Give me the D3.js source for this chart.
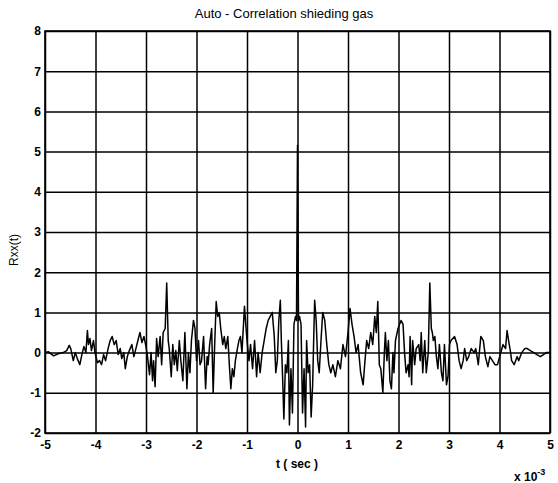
<!DOCTYPE html>
<html>
<head>
<meta charset="utf-8">
<script src="https://cdn.jsdelivr.net/npm/d3@7"></script>
<style>
  body { margin: 0; background: #fff; }
  text { font-family: "Liberation Sans", Arial, sans-serif; fill: #000; }
</style>
</head>
<body>
<svg id="chart" width="558" height="483"></svg>
<script>
// tick values
var xTicks = [-5, -4, -3, -2, -1, 0, 1, 2, 3, 4, 5];
var yTicks = [-2, -1, 0, 1, 2, 3, 4, 5, 6, 7, 8];

// Rxx(t), t in ms (x 10^-3 s)
var leftHalf = [
  [-5.00, 0.0], [-4.93, 0.02], [-4.83, -0.08], [-4.74, -0.03], [-4.64, 0.0], [-4.57, 0.05],
  [-4.52, 0.18], [-4.49, 0.1], [-4.44, -0.2], [-4.40, 0.0], [-4.36, -0.15], [-4.31, -0.3],
  [-4.27, -0.05], [-4.23, 0.15], [-4.19, 0.0], [-4.16, 0.55], [-4.14, 0.2], [-4.11, 0.35],
  [-4.08, 0.05], [-4.04, 0.3], [-4.01, 0.0], [-3.96, -0.25], [-3.92, -0.2], [-3.88, -0.3],
  [-3.84, -0.05], [-3.80, -0.2], [-3.75, 0.1], [-3.71, 0.3], [-3.67, 0.4], [-3.63, 0.2],
  [-3.59, 0.3], [-3.55, -0.05], [-3.51, 0.1], [-3.48, -0.15], [-3.44, 0.0], [-3.41, -0.4],
  [-3.37, -0.1], [-3.33, 0.05], [-3.28, 0.2], [-3.24, -0.1], [-3.20, 0.1], [-3.16, 0.3],
  [-3.12, 0.5], [-3.08, 0.25], [-3.04, 0.4], [-3.00, 0.15], [-2.97, -0.1], [-2.93, -0.55],
  [-2.90, 0.0], [-2.87, -0.7], [-2.85, -0.2], [-2.82, -0.85], [-2.79, 0.35], [-2.76, -0.1],
  [-2.72, 0.4], [-2.69, -0.3], [-2.66, 0.5], [-2.62, 0.6], [-2.59, 1.73], [-2.56, 0.3],
  [-2.54, 0.1], [-2.50, -0.6], [-2.47, 0.2], [-2.44, -0.3], [-2.41, 0.05], [-2.38, -0.45],
  [-2.34, 0.3], [-2.31, -0.2], [-2.27, -0.7], [-2.23, 0.5], [-2.19, -0.9], [-2.16, 0.0],
  [-2.13, -0.5], [-2.10, 0.3], [-2.06, 0.8], [-2.03, 0.6], [-2.00, -0.2], [-1.96, 0.3],
  [-1.93, -0.3], [-1.90, -0.2], [-1.86, 0.4], [-1.82, -0.9], [-1.79, -0.1], [-1.77, -0.3],
  [-1.74, 0.2], [-1.70, 0.6], [-1.67, -1.0], [-1.64, 0.2], [-1.61, 1.27], [-1.58, 0.9],
  [-1.55, 1.0], [-1.52, 0.6], [-1.48, 0.2], [-1.45, 0.4], [-1.42, 0.1], [-1.38, 0.4],
  [-1.35, -0.3], [-1.32, -0.9], [-1.29, -0.4], [-1.26, -0.6], [-1.23, -0.2], [-1.19, 0.1],
  [-1.16, 0.3], [-1.13, 0.4], [-1.10, 0.0], [-1.05, 1.15], [-1.03, 0.8], [-1.00, 0.3],
  [-0.96, -0.2], [-0.93, 0.2], [-0.89, -0.4], [-0.85, 0.3], [-0.81, -0.6], [-0.78, 0.0],
  [-0.74, -0.5], [-0.70, 0.0], [-0.66, 0.3], [-0.62, 0.6], [-0.58, 0.8], [-0.50, 1.0],
  [-0.46, 0.4], [-0.43, -0.5], [-0.40, -0.2], [-0.37, 0.8], [-0.34, 1.3], [-0.32, 0.3],
  [-0.29, -0.8], [-0.27, -1.65], [-0.24, -0.3], [-0.21, -0.5], [-0.18, 0.3], [-0.16, -1.8],
  [-0.13, -0.4], [-0.10, -1.5], [-0.07, 0.7], [-0.04, 0.9], [-0.02, 0.8]
];
var peak = [[0, 5.16]];
var rightHalf = [
  [0.02, 0.8], [0.04, 0.9], [0.07, 0.7], [0.10, -1.5], [0.13, -0.4], [0.16, -1.85],
  [0.18, 0.3], [0.21, -0.5], [0.24, -0.3], [0.27, -1.6], [0.30, -0.8], [0.32, 0.3],
  [0.34, 1.3], [0.37, 0.8], [0.40, -0.2], [0.43, -0.5], [0.47, 0.4], [0.50, 1.0],
  [0.54, 0.8], [0.58, 0.2], [0.62, -0.3], [0.66, -0.5], [0.70, -0.3], [0.75, -0.6],
  [0.80, -0.2], [0.85, -0.4], [0.90, 0.2], [0.95, -0.1], [1.00, 0.5], [1.04, 1.1],
  [1.08, 0.7], [1.12, 0.4], [1.16, 0.0], [1.20, 0.2], [1.25, -0.5], [1.30, -0.8],
  [1.33, -0.3], [1.37, 0.3], [1.41, 0.1], [1.45, 0.5], [1.49, 0.2], [1.53, 0.9],
  [1.56, 0.5], [1.59, 1.27], [1.62, -0.3], [1.65, -0.4], [1.69, -1.0], [1.72, 0.0],
  [1.74, 0.5], [1.77, -0.2], [1.80, 0.3], [1.83, -0.7], [1.86, -0.9], [1.89, 0.0],
  [1.91, -0.5], [1.94, 0.3], [1.99, 0.6], [2.05, 0.8], [2.09, 0.7], [2.12, 0.0],
  [2.15, -0.5], [2.19, -0.3], [2.21, -0.6], [2.23, 0.4], [2.26, -0.8], [2.28, 0.3],
  [2.32, -0.3], [2.35, 0.1], [2.40, 0.2], [2.43, -0.2], [2.45, 0.5], [2.48, -0.5],
  [2.52, 0.3], [2.55, -0.5], [2.59, 0.0], [2.62, 1.73], [2.65, 0.6], [2.67, 0.5],
  [2.69, 0.3], [2.72, 0.4], [2.75, -0.1], [2.78, -0.4], [2.81, 0.2], [2.85, -0.5],
  [2.88, -0.7], [2.91, 0.2], [2.95, -0.8], [2.98, -0.6], [3.01, 0.2], [3.04, 0.3],
  [3.11, 0.4], [3.16, 0.2], [3.20, -0.2], [3.24, -0.4], [3.28, -0.2], [3.31, 0.1],
  [3.35, -0.2], [3.39, -0.1], [3.44, 0.1], [3.50, 0.0], [3.53, 0.1], [3.58, -0.3],
  [3.63, 0.4], [3.68, 0.3], [3.72, -0.1], [3.77, -0.35], [3.81, -0.1], [3.86, -0.2],
  [3.91, -0.3], [3.96, -0.3], [4.07, 0.2], [4.12, 0.1], [4.15, 0.55], [4.18, 0.3],
  [4.22, 0.0], [4.24, -0.2], [4.29, -0.3], [4.35, -0.1], [4.38, -0.2], [4.44, 0.0],
  [4.50, 0.1], [4.55, 0.1], [4.61, 0.05], [4.68, 0.0], [4.74, -0.05], [4.81, -0.1],
  [4.87, -0.05], [4.93, 0.0], [5.00, 0.0]
];

var svg = d3.select("#chart");
var padL = 45, padR = 550, padT = 31, padB = 433;

var x = d3.scaleLinear().domain([-5, 5]).range([padL, padR]);
var y = d3.scaleLinear().domain([-2, 8]).range([padB, padT]);

// grid + ticks via axes
var xAxis = d3.axisBottom(x)
  .tickValues(xTicks)
  .tickSizeInner(-(padB - padT))
  .tickSizeOuter(0)
  .tickPadding(7)
  .tickFormat(function(d) { return String(d); });
var yAxis = d3.axisLeft(y)
  .tickValues(yTicks)
  .tickSizeInner(-(padR - padL))
  .tickSizeOuter(0)
  .tickPadding(4)
  .tickFormat(function(d) { return String(d); });

var gx = svg.append("g").attr("transform", "translate(0," + padB + ")").call(xAxis);
var gy = svg.append("g").attr("transform", "translate(" + padL + ",0)").call(yAxis);

[gx, gy].forEach(function(g) {
  g.select(".domain").remove();
  g.selectAll(".tick line").attr("stroke", "#000").attr("stroke-width", 1.5);
  g.selectAll(".tick text")
    .attr("fill", "#000")
    .style("font-size", "12px")
    .style("font-weight", "bold");
});

// box
svg.append("rect")
  .attr("x", padL).attr("y", padT)
  .attr("width", padR - padL).attr("height", padB - padT)
  .attr("fill", "none").attr("stroke", "#000").attr("stroke-width", 1.6);

// data line
var data = leftHalf.concat(peak, rightHalf);
var line = d3.line()
  .x(function(d) { return x(d[0]); })
  .y(function(d) { return y(d[1]); });

svg.append("path")
  .datum(data)
  .attr("d", line)
  .attr("fill", "none")
  .attr("stroke", "#000")
  .attr("stroke-width", 1.5)
  .attr("stroke-linejoin", "round");

// labels
svg.append("text")
  .attr("x", 284)
  .attr("y", 18)
  .attr("text-anchor", "middle")
  .style("font-size", "13px")
  .text("Auto - Correlation shieding gas");

svg.append("text")
  .attr("x", 297)
  .attr("y", 468)
  .attr("text-anchor", "middle")
  .style("font-size", "12px")
  .style("font-weight", "bold")
  .text("t ( sec )");

svg.append("text")
  .attr("transform", "translate(18,250) rotate(-90)")
  .attr("text-anchor", "middle")
  .style("font-size", "12px")
  .text("Rxx(t)");

var mult = svg.append("text")
  .attr("x", 514)
  .attr("y", 481)
  .style("font-size", "12px")
  .style("font-weight", "bold")
  .text("x 10");
mult.append("tspan")
  .attr("dy", -6)
  .style("font-size", "9px")
  .text("-3");
</script>
</body>
</html>
